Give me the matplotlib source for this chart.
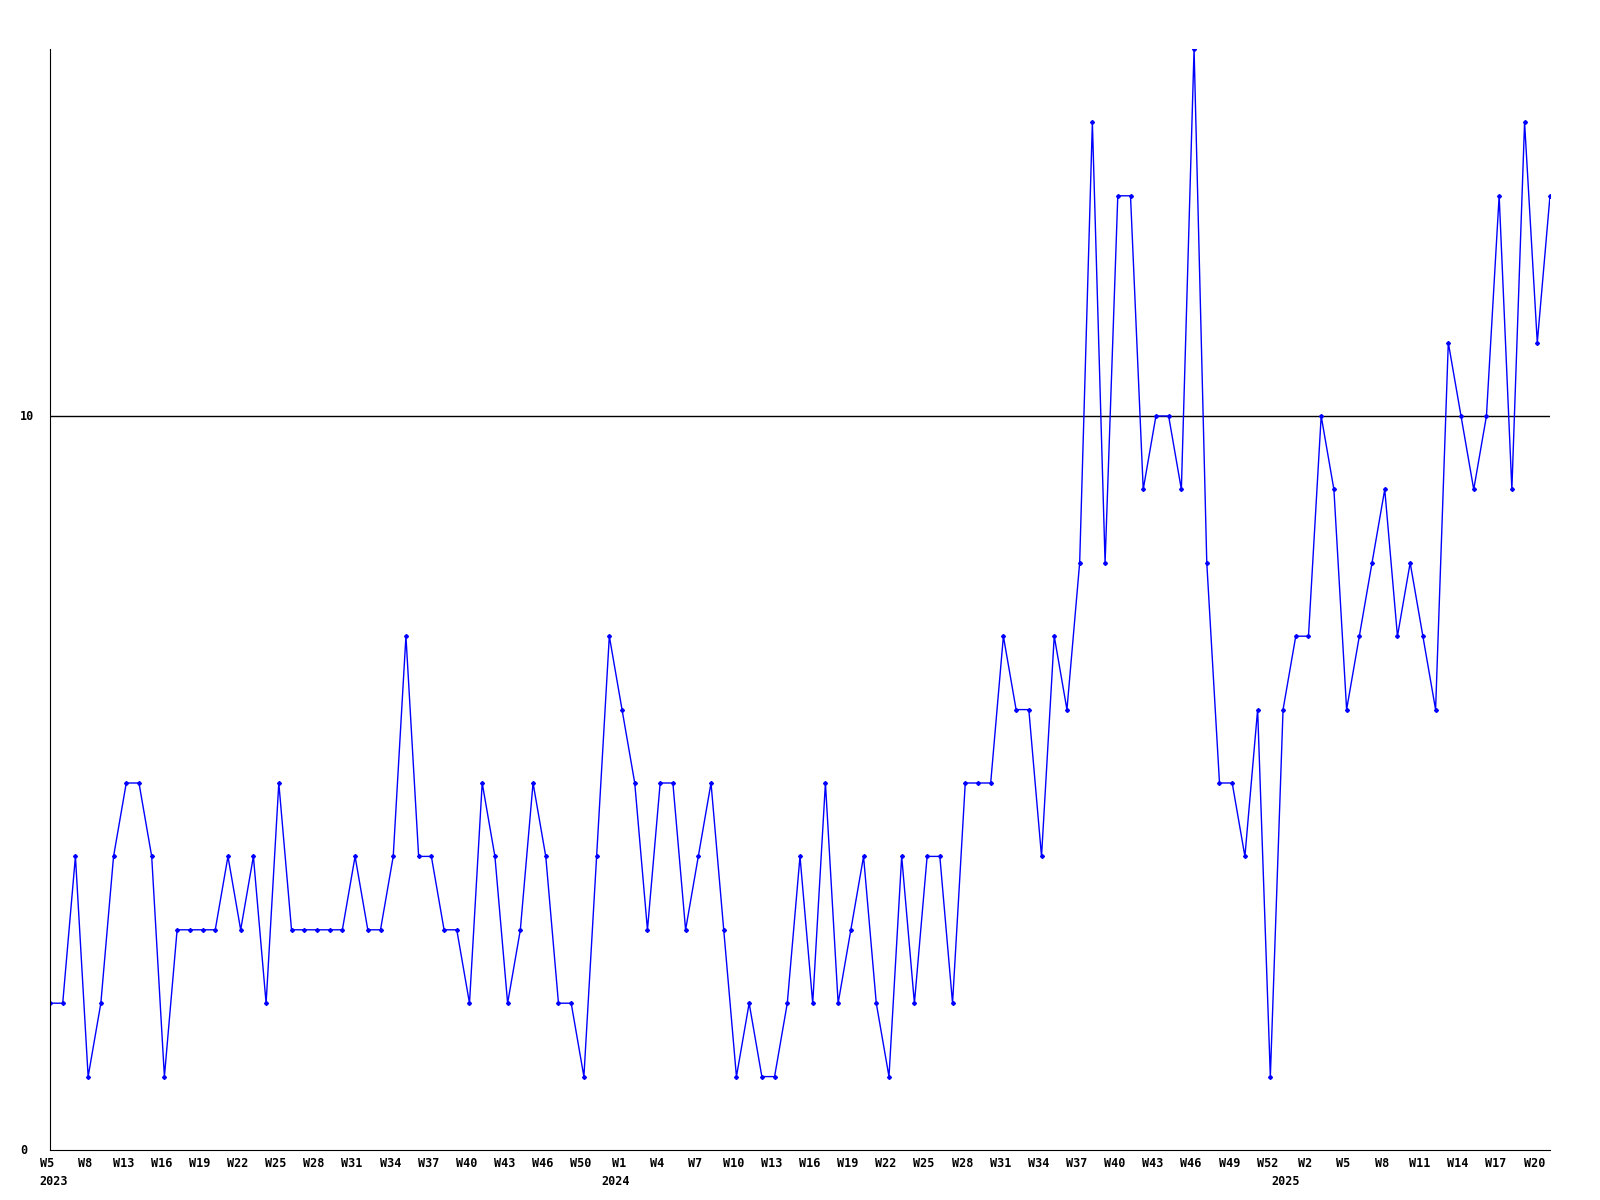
import matplotlib
matplotlib.use("Agg")
import matplotlib.pyplot as plt
import matplotlib.transforms as mtransforms

# weekly counts, one value per point
values = [2, 2, 4, 1, 2, 4, 5, 5, 4, 1,
          3, 3, 3, 3, 4, 3, 4, 2, 5, 3,
          3, 3, 3, 3, 4, 3, 3, 4, 7, 4,
          4, 3, 3, 2, 5, 4, 2, 3, 5, 4,
          2, 2, 1, 4, 7, 6, 5, 3, 5, 5,
          3, 4, 5, 3, 1, 2, 1, 1, 2, 4,
          2, 5, 2, 3, 4, 2, 1, 4, 2, 4,
          4, 2, 5, 5, 5, 7, 6, 6, 4, 7,
          6, 8, 14, 8, 13, 13, 9, 10, 10, 9,
          15, 8, 5, 5, 4, 6, 1, 6, 7, 7,
          10, 9, 6, 7, 8, 9, 7, 8, 7, 6,
          11, 10, 9, 10, 13, 9, 14, 11, 13]

# week labels, every third point
week_labels = ["W5", "W8", "W13", "W16", "W19", "W22", "W25", "W28", "W31", "W34",
               "W37", "W40", "W43", "W46", "W50", "W1", "W4", "W7", "W10", "W13",
               "W16", "W19", "W22", "W25", "W28", "W31", "W34", "W37", "W40", "W43",
               "W46", "W49", "W52", "W2", "W5", "W8", "W11", "W14", "W17", "W20"]

# year labels and where they sit along the x axis
years = ["2023", "2024", "2025"]
year_pos = [0.25, 44.5, 97.2]

y_ticks = [0, 10]

x = list(range(len(values)))
font = dict(family="DejaVu Sans Mono", fontweight="bold", fontsize=8.5)

fig = plt.figure(figsize=(16, 12), dpi=100)
ax = fig.add_axes([50/1600, 50/1200, 1500/1600, 1101/1200])

ax.plot(x, values, color="#0000ff", linewidth=1, marker="D", markersize=2)
ax.axhline(10, color="black", linewidth=1, zorder=0)

ax.set_xlim(0, len(values) - 1)
ax.set_ylim(0, 15)

for s in ["top", "right"]:
    ax.spines[s].set_visible(False)

# y labels are left aligned near the figure edge
ax.set_yticks([])
trans = mtransforms.blended_transform_factory(fig.transFigure, ax.transData)
for t in y_ticks:
    ax.text(20/1600, t, str(t), ha="left", va="center", transform=trans, **font)

ax.set_xticks(x[::3])
ax.set_xticklabels(week_labels, **font)
ax.tick_params(axis="x", length=0, pad=5)
# week labels sit a few pixels left of their points in the original
shift = mtransforms.ScaledTranslation(-3/100, 0, fig.dpi_scale_trans)
for lab in ax.get_xticklabels():
    lab.set_transform(lab.get_transform() + shift)

for yr, p in zip(years, year_pos):
    ax.text(p, -0.34, yr, ha="center", va="top", **font)

fig.savefig("out.png")
